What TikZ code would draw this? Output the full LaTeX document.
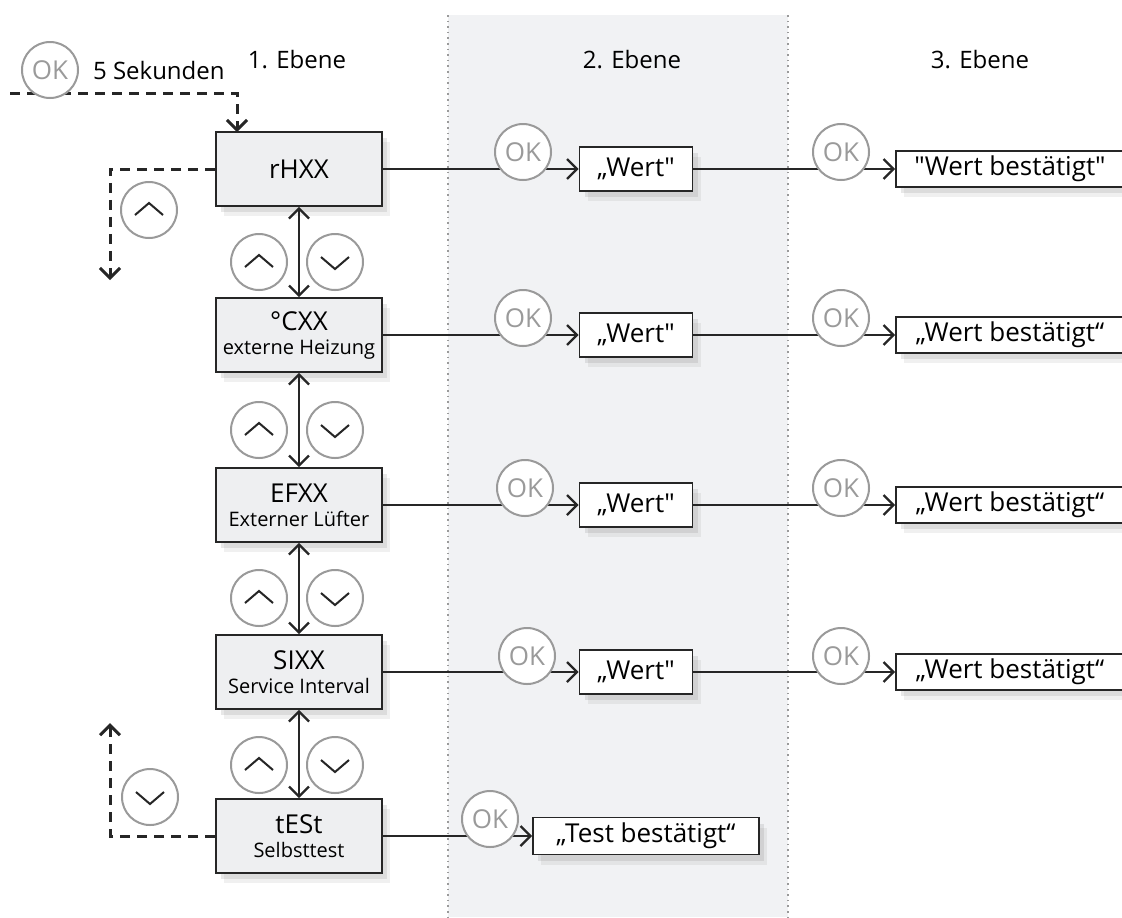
\documentclass[tikz,border=0pt]{standalone}
\usepackage{fontspec}
\setmainfont{Open Sans}
\usetikzlibrary{arrows.meta, shadows}

\definecolor{bandgray}{HTML}{F1F2F4}
\definecolor{boxgray}{HTML}{EEEFF1}
\definecolor{linegray}{HTML}{262626}
\definecolor{keygray}{HTML}{9A9A9A}

\begin{document}
\begin{tikzpicture}[x=0.5pt, y=-0.5pt, font=\fontsize{12}{14}\selectfont,
                    >={Straight Barb[length=5pt,width=10pt]}]
        % Setup the styles
        \tikzset{menu style/.style={draw=linegray,
                                    line width=0.8pt,
                                    fill=boxgray,
                                    minimum width=83pt,
                                    minimum height=37pt,
                                    inner sep=0pt,
                                    align=center,
                                    font=\fontsize{13}{14}\selectfont,
                                    drop shadow={opacity=0.12, shadow xshift=4pt, shadow yshift=-5pt},
                                    drop shadow={opacity=0.18, shadow xshift=2.5pt, shadow yshift=-3pt}},
                 value style/.style={menu style, fill=white, minimum height=22pt},
                 key style/.style={circle,
                                   draw=keygray,
                                   line width=1pt,
                                   fill=white,
                                   minimum size=28pt,
                                   inner sep=0pt,
                                   text=keygray,
                                   font=\fontsize{13}{13}\selectfont},
                 up key/.style={key style,
                                path picture={\draw[line width=1pt, linegray]
                                  ([shift={(-7pt,-2.5pt)}]path picture bounding box.center) --
                                  ([shift={(0pt,3.5pt)}]path picture bounding box.center) --
                                  ([shift={(7pt,-2.5pt)}]path picture bounding box.center);}},
                 down key/.style={key style,
                                path picture={\draw[line width=1pt, linegray]
                                  ([shift={(-7pt,2.5pt)}]path picture bounding box.center) --
                                  ([shift={(0pt,-3.5pt)}]path picture bounding box.center) --
                                  ([shift={(7pt,2.5pt)}]path picture bounding box.center);}},
                 flow/.style={line width=1.2pt, draw=linegray, ->},
                 jump/.style={flow, line width=1.5pt, dash pattern=on 5pt off 3.5pt}}
        \newcommand{\sublabel}[1]{{\fontsize{10}{11}\selectfont #1}}

        \useasboundingbox (0,0) rectangle (1122,917);

        % Draw the middle band
        \fill[bandgray] (448,15) rectangle (788,917);
        \draw[keygray, line width=0.8pt, dotted] (448,15) -- (448,917);
        \draw[keygray, line width=0.8pt, dotted] (788,15) -- (788,917);

        % Draw the headings
        \node at (297,60) (level1) {1. Ebene};
        \node at (632,60) (level2) {2. Ebene};
        \node at (980,60) (level3) {3. Ebene};

        % Draw the menu entries
        \node[menu style] at (299,169) (rhxx) {rHXX};
        \node[menu style] at (299,335) (cxx) {°CXX\\[-2pt]\sublabel{externe Heizung}};
        \node[menu style] at (299,505) (efxx) {EFXX\\[-2pt]\sublabel{Externer Lüfter}};
        \node[menu style] at (299,672) (sixx) {SIXX\\[-2pt]\sublabel{Service Interval}};
        \node[menu style] at (299,836) (test) {tESt\\[-2pt]\sublabel{Selbsttest}};

        % Draw the values
        \node[value style, minimum width=56.5pt] at (636,169) (wert1) {„Wert\textquotedbl};
        \node[value style, minimum width=56.5pt] at (636,335) (wert2) {„Wert\textquotedbl};
        \node[value style, minimum width=56.5pt] at (636,505) (wert3) {„Wert\textquotedbl};
        \node[value style, minimum width=56.5pt] at (636,672) (wert4) {„Wert\textquotedbl};
        \node[value style, minimum width=114pt, minimum height=18pt] at (1010,169) (done1) {\textquotedbl Wert bestätigt\textquotedbl};
        \node[value style, minimum width=114pt, minimum height=18pt] at (1010,335) (done2) {„Wert bestätigt“};
        \node[value style, minimum width=114pt, minimum height=18pt] at (1010,505) (done3) {„Wert bestätigt“};
        \node[value style, minimum width=114pt, minimum height=18pt] at (1010,672) (done4) {„Wert bestätigt“};
        \node[value style, minimum width=113pt, minimum height=18.5pt] at (646,836) (testok) {„Test bestätigt“};

        % Connect the entries
        \draw[flow] (rhxx) -- (wert1);
        \draw[flow] (cxx) -- (wert2);
        \draw[flow] (efxx) -- (wert3);
        \draw[flow] (sixx) -- (wert4);
        \draw[flow] (test) -- (testok);
        \draw[flow] (wert1) -- (done1);
        \draw[flow] (wert2) -- (done2);
        \draw[flow] (wert3) -- (done3);
        \draw[flow] (wert4) -- (done4);
        \draw[flow, <->] (rhxx) -- (cxx);
        \draw[flow, <->] (cxx) -- (efxx);
        \draw[flow, <->] (efxx) -- (sixx);
        \draw[flow, <->] (sixx) -- (test);

        % Jumps in and out of the menu
        \coordinate (start) at (10,93);
        \coordinate (entry) at (237,132);
        \coordinate (exit up) at (110,280);
        \coordinate (exit down) at (110,723);
        \draw[jump] (start) -| (entry);
        \draw[jump] (rhxx.west) -| (exit up);
        \draw[jump] (test.west) -| (exit down);

        % Draw the keys
        \node[key style] at (50,70) (hold) {OK};
        \node[anchor=west] at (86,70) (seconds) {5 Sekunden};
        \node[up key] at (149,210) (upout) {};
        \node[down key] at (150,797) (downout) {};
        \node[up key] at (259,262) (up1) {};
        \node[down key] at (335,262) (down1) {};
        \node[up key] at (259,430) (up2) {};
        \node[down key] at (335,430) (down2) {};
        \node[up key] at (259,598) (up3) {};
        \node[down key] at (335,598) (down3) {};
        \node[up key] at (259,765) (up4) {};
        \node[down key] at (335,765) (down4) {};
        \node[key style] at (523,152) (ok1) {OK};
        \node[key style] at (523,318) (ok2) {OK};
        \node[key style] at (525,488) (ok3) {OK};
        \node[key style] at (527,656) (ok4) {OK};
        \node[key style] at (490,819) (ok5) {OK};
        \node[key style] at (841,152) (conf1) {OK};
        \node[key style] at (841,318) (conf2) {OK};
        \node[key style] at (841,488) (conf3) {OK};
        \node[key style] at (841,656) (conf4) {OK};
\end{tikzpicture}
\end{document}
